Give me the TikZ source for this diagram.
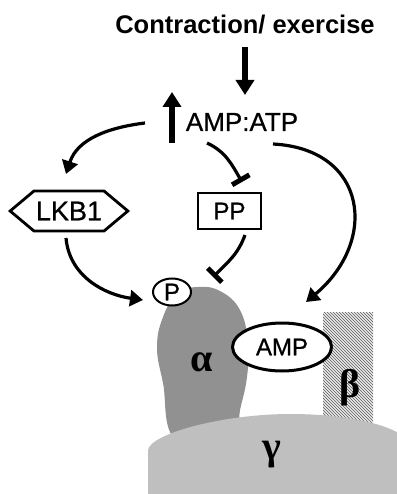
\documentclass[tikz,border=0pt]{standalone}
\usepackage{fontspec}
\setmainfont{Liberation Sans}
\newfontfamily\labelfont[FakeBold=0.7]{Liberation Sans}
\newfontfamily\greekfont{Liberation Serif}
\usetikzlibrary{arrows.meta,shapes.geometric,shapes.symbols}

\begin{document}
\begin{tikzpicture}[x=1pt,y=1pt,
  title/.style={font=\bfseries\fontsize{25.5}{25.5}\selectfont, inner sep=0pt},
  lbl/.style={font=\labelfont\fontsize{24}{24}\selectfont, inner sep=0pt},
  link/.style={line width=3.2pt},
  act/.style={link,-{Triangle[length=13pt,width=16pt]}},
  inh/.style={link,-{Bar[width=20pt,line width=5pt]}},
  bigarrow/.style={line width=6pt,-{Triangle[length=15pt,width=18pt]}},
  greek/.style={font=\greekfont\bfseries\fontsize{40}{40}\selectfont, inner sep=0pt}
]
\useasboundingbox (0,0) rectangle (396,-494);

% beta subunit: hatched block
\begin{scope}
  \clip (323,-312) rectangle (373,-440);
  \foreach \i in {-140,-137,...,55}
    \draw[black!55, line width=0.9pt] (323+\i,-312) -- ++(160,-160);
\end{scope}
\node[greek] (beta) at (350,-388) {β};

% alpha subunit
\fill[black!43] plot[smooth cycle, tension=0.7] coordinates {
  (197,-287) (220,-291) (240,-310) (248,-343) (247,-377) (240,-410)
  (233,-440) (176,-440) (163,-383) (157,-347) (163,-317) (177,-294)};
\node[greek] (alpha) at (202,-362) {α};

% gamma subunit
\fill[black!25] (148,-494) -- (148,-450)
  .. controls (151,-433) and (225,-414) .. (290,-414)
  .. controls (345,-414) and (385,-424) .. (400,-434) -- (400,-494) -- cycle;
\node[greek] (gamma) at (272,-455) {γ};

% labelled nodes
\node[title] (stim) at (245,-25) {Contraction/ exercise};
\node[lbl, font=\labelfont\fontsize{26}{26}\selectfont] (ratio) at (242,-122) {AMP:ATP};
\node[lbl, font=\labelfont\fontsize{27}{27}\selectfont, draw, signal, signal to=west and east, signal pointer angle=80,
      minimum width=116pt, minimum height=40pt, inner sep=2pt, line width=2.8pt] (lkb) at (69,-211) {LKB1};
\node[lbl, draw, rectangle, minimum width=63pt, minimum height=36pt, line width=2.8pt] (pp) at (229.5,-211) {PP};
\node[lbl, draw, ellipse, fill=white, minimum width=99pt, minimum height=48pt, line width=3pt] (amp) at (282,-347) {AMP};
\node[lbl, draw, ellipse, fill=white, minimum width=38pt, minimum height=27pt, line width=2pt] (p) at (172,-292) {P};

% connector end points
\coordinate (downTop) at (245,-47);
\coordinate (downTip) at (245,-95);
\coordinate (upBase) at (172,-143);
\coordinate (upTip) at (172,-92);
\coordinate (toLkbStart) at (145,-123);
\coordinate (toLkbEnd) at (66,-174);
\coordinate (toPpStart) at (207,-143);
\coordinate (toPpEnd) at (242,-182);
\coordinate (toAmpStart) at (273,-144);
\coordinate (toAmpEnd) at (306,-302);
\coordinate (lkbOut) at (66,-238);
\coordinate (lkbIn) at (143,-300);
\coordinate (ppOut) at (245,-235);
\coordinate (ppIn) at (213,-277);

% arrows
\draw[bigarrow] (downTop) -- (downTip);
\draw[bigarrow] (upBase) -- (upTip);
\draw[act] (toLkbStart) to[out=187,in=72] (toLkbEnd);
\draw[inh] (toPpStart) to[out=-25,in=120] (toPpEnd);
\draw[act] (toAmpStart) to[out=-3,in=40, looseness=1.5] (toAmpEnd);
\draw[act] (lkbOut) to[out=-85,in=172] (lkbIn);
\draw[inh] (ppOut) to[out=-110,in=45] (ppIn);
\end{tikzpicture}
\end{document}
